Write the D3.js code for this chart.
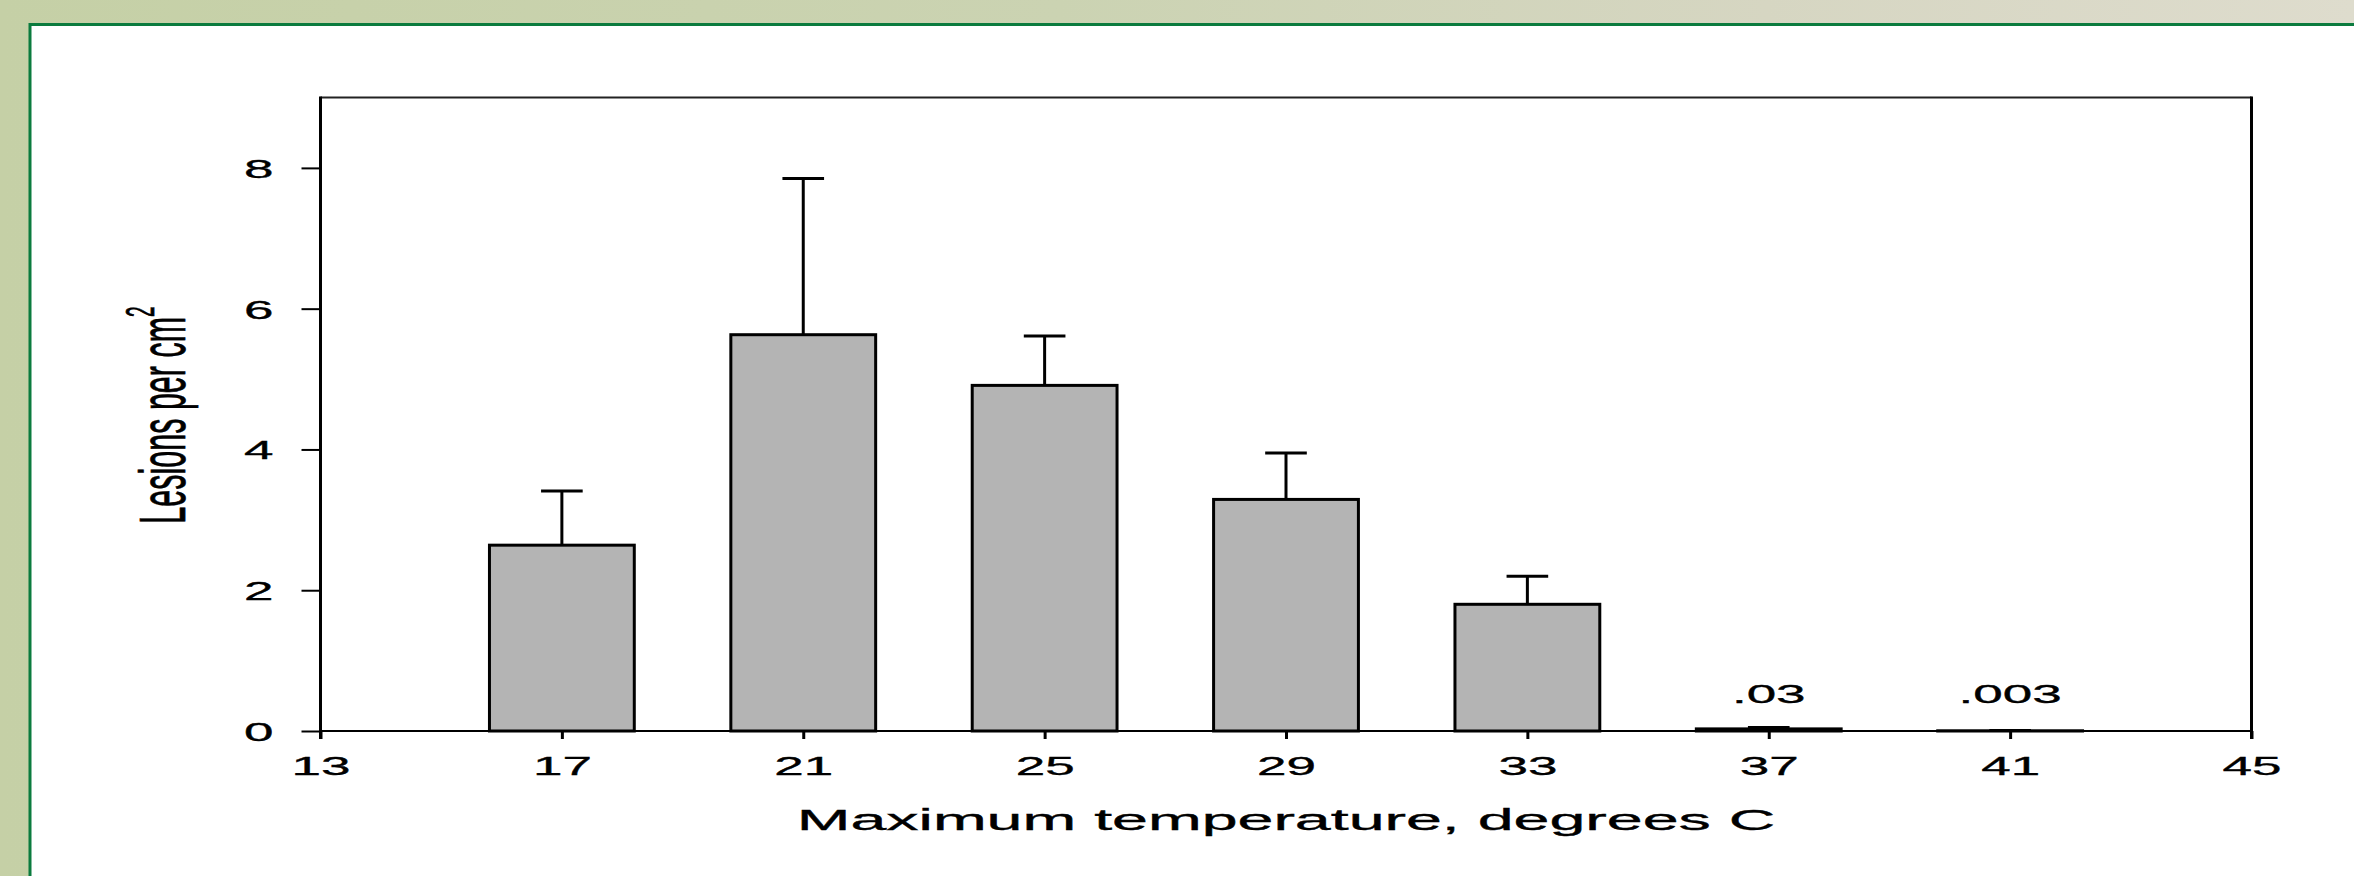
<!DOCTYPE html>
<html>
<head>
<meta charset="utf-8">
<script src="https://cdn.jsdelivr.net/npm/d3@7"></script>
<style>
  body { margin: 0; background: #d2d6bc; }
  text { font-family: "Liberation Sans", Arial, sans-serif; fill: #000; stroke: #000; stroke-width: 0.35px; }
</style>
</head>
<body>
<div id="chart"></div>
<script>
// bar chart data
var categories = [17, 21, 25, 29, 33, 37, 41];
var values = [2.64, 5.63, 4.91, 3.29, 1.80, 0.03, 0.003];
var errors = [0.77, 2.22, 0.70, 0.66, 0.40, 0.02, 0.003];
var valueLabels = ['', '', '', '', '', '.03', '.003'];
var xTicks = [13, 17, 21, 25, 29, 33, 37, 41, 45];
var yTicks = [0, 2, 4, 6, 8];

var width = 2354,
    height = 876,
    plotLeft = 320.5,
    plotRight = 2251.5,
    plotTop = 97.5,
    plotBottom = 731,
    barWidth = 2.4,   // in degrees
    capWidth = 0.69;  // in degrees

var svg = d3.select('#chart').append('svg')
    .attr('width', width)
    .attr('height', height);

// slide background + white panel
var defs = svg.append('defs');
var grad = defs.append('linearGradient').attr('id', 'bg');
grad.append('stop').attr('offset', '0%').attr('stop-color', '#c5d0a6');
grad.append('stop').attr('offset', '45%').attr('stop-color', '#cbd3b2');
grad.append('stop').attr('offset', '75%').attr('stop-color', '#d6d6c2');
grad.append('stop').attr('offset', '100%').attr('stop-color', '#dedccd');

svg.append('rect')
    .attr('width', width)
    .attr('height', height)
    .attr('fill', 'url(#bg)');

svg.append('rect')
    .attr('x', 30)
    .attr('y', 24.5)
    .attr('width', width)
    .attr('height', height)
    .attr('fill', '#fff')
    .attr('stroke', '#0b7b3e')
    .attr('stroke-width', 3);

var x = d3.scaleLinear().domain([13, 45]).range([plotLeft, plotRight]);
var y = d3.scaleLinear().domain([0, 9]).range([plotBottom, plotTop]);

var rows = categories.map(function(c, i) {
    return { cat: c, value: values[i], err: errors[i], label: valueLabels[i] };
});

// bars
svg.selectAll('rect.bar')
    .data(rows)
    .enter()
    .append('rect')
    .attr('class', 'bar')
    .attr('x', function(d) { return x(d.cat - barWidth / 2); })
    .attr('width', function(d) { return x(d.cat + barWidth / 2) - x(d.cat - barWidth / 2); })
    .attr('y', function(d) { return y(d.value); })
    .attr('height', function(d) { return y(0) - y(d.value); })
    .attr('fill', '#b4b4b4')
    .attr('stroke', '#000')
    .attr('stroke-width', 3);

// error bars (upper only)
var err = svg.selectAll('g.err')
    .data(rows)
    .enter()
    .append('g')
    .attr('class', 'err')
    .attr('stroke', '#000')
    .attr('stroke-width', 3);

err.append('line')
    .attr('x1', function(d) { return x(d.cat); })
    .attr('x2', function(d) { return x(d.cat); })
    .attr('y1', function(d) { return y(d.value); })
    .attr('y2', function(d) { return y(d.value + d.err); });

err.append('line')
    .attr('x1', function(d) { return x(d.cat - capWidth / 2); })
    .attr('x2', function(d) { return x(d.cat + capWidth / 2); })
    .attr('y1', function(d) { return y(d.value + d.err); })
    .attr('y2', function(d) { return y(d.value + d.err); });

// small value labels
svg.selectAll('text.vlabel')
    .data(rows.filter(function(d) { return d.label; }))
    .enter()
    .append('text')
    .attr('class', 'vlabel')
    .attr('text-anchor', 'middle')
    .attr('font-size', 26.5)
    .attr('transform', function(d) {
        return 'translate(' + x(d.cat) + ',' + (y(0) - 28) + ') scale(2,1)';
    })
    .text(function(d) { return d.label; });

// x axis
var xAxis = svg.append('g')
    .attr('transform', 'translate(0,' + plotBottom + ')')
    .call(d3.axisBottom(x).tickValues(xTicks).tickSize(8).tickSizeOuter(0));
xAxis.select('.domain').remove();
xAxis.selectAll('.tick line').attr('stroke', '#000').attr('stroke-width', 3);
xAxis.selectAll('.tick text')
    .attr('y', 0)
    .attr('dy', 0)
    .attr('font-size', 26.5)
    .attr('font-family', null)
    .attr('transform', 'translate(0,44) scale(2,1)');

// y axis
var yAxis = svg.append('g')
    .attr('transform', 'translate(' + plotLeft + ',0)')
    .call(d3.axisLeft(y).tickValues(yTicks).tickSize(19).tickSizeOuter(0));
yAxis.select('.domain').remove();
yAxis.selectAll('.tick line').attr('stroke', '#000').attr('stroke-width', 2);
yAxis.selectAll('.tick text')
    .attr('x', 0)
    .attr('dy', '0.36em')
    .attr('font-size', 26.5)
    .attr('font-family', null)
    .attr('transform', 'translate(-47,0) scale(2,1)');

// frame
svg.append('line')
    .attr('x1', plotLeft).attr('x2', plotRight)
    .attr('y1', plotTop).attr('y2', plotTop)
    .attr('stroke', '#222').attr('stroke-width', 2);
svg.append('line')
    .attr('x1', plotLeft).attr('x2', plotRight)
    .attr('y1', plotBottom).attr('y2', plotBottom)
    .attr('stroke', '#000').attr('stroke-width', 2);
svg.append('line')
    .attr('x1', plotLeft).attr('x2', plotLeft)
    .attr('y1', plotTop - 1).attr('y2', plotBottom + 8)
    .attr('stroke', '#000').attr('stroke-width', 3);
svg.append('line')
    .attr('x1', plotRight).attr('x2', plotRight)
    .attr('y1', plotTop - 1).attr('y2', plotBottom + 8)
    .attr('stroke', '#000').attr('stroke-width', 3);

// axis titles
svg.append('text')
    .attr('text-anchor', 'middle')
    .attr('font-size', 30)
    .attr('transform', 'translate(' + ((plotLeft + plotRight) / 2) + ',830) scale(2.15,1)')
    .text('Maximum temperature, degrees C');

var yTitle = svg.append('text')
    .attr('text-anchor', 'middle')
    .attr('font-size', 30.5)
    .attr('transform', 'translate(185,415) scale(2.1,1) rotate(-90)');
yTitle.append('tspan').text('Lesions per cm');
yTitle.append('tspan').attr('font-size', 19).attr('dy', -15).text('2');
</script>
</body>
</html>
